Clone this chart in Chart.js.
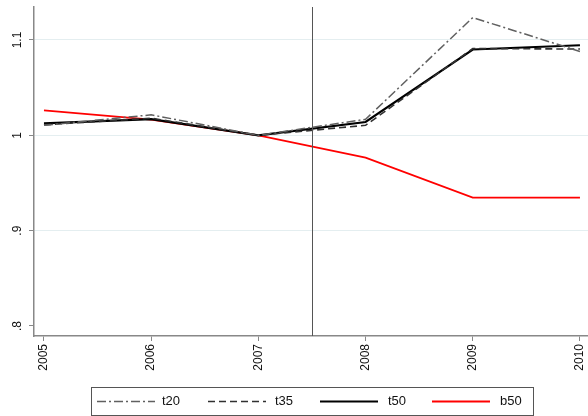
<!DOCTYPE html>
<html><head><meta charset="utf-8">
<script src="https://cdn.jsdelivr.net/npm/chart.js@4"></script>
<style>html,body{margin:0;padding:0;background:#fff}#wrap{width:588px;height:416px}</style>
</head><body><div id="wrap"><canvas id="c"></canvas></div>
<script>
const years = [2005, 2006, 2007, 2008, 2009, 2010];
const t20 = [1.0105, 1.0215, 1.000, 1.0168, 1.1235, 1.088];
const t35 = [1.0110, 1.0180, 1.000, 1.0105, 1.0910, 1.0905];
const t50 = [1.0125, 1.0170, 1.000, 1.0140, 1.0900, 1.0945];
const b50 = [1.0262, 1.0165, 1.000, 0.9766, 0.9346, 0.9346];
const seriesNames = ['t20', 't35', 't50', 'b50'];
const yTicks = [0.8, 0.9, 1.0, 1.1];
const yTickLabels = ['.8', '.9', '1', '1.1'];
const xTickLabels = ['2005', '2006', '2007', '2008', '2009', '2010'];
const eventYear = 2007.5;

const styles = [
  {color:'#606060', width:1.5, dash:[9,3,2,3]},
  {color:'#303030', width:1.6, dash:[7,4]},
  {color:'#000000', width:2.2, dash:[]},
  {color:'#ff0000', width:1.8, dash:[]}
];
const seriesData = [t20, t35, t50, b50];

const datasets = seriesData.map((arr, i) => ({
  label: seriesNames[i],
  data: arr.map((v, j) => ({x: years[j], y: v})),
  borderColor: styles[i].color,
  borderWidth: styles[i].width,
  borderDash: styles[i].dash,
  pointRadius: 0,
  fill: false,
  tension: 0
}));
const FONT = '"Liberation Sans", Arial, sans-serif';

const extras = {
  id: 'extras',
  afterDatasetsDraw(chart) {
    const ctx = chart.ctx, xs = chart.scales.x, ca = chart.chartArea;
    const px = Math.round(xs.getPixelForValue(eventYear)) + 0.5;
    ctx.save();
    ctx.strokeStyle = '#555'; ctx.lineWidth = 1;
    ctx.beginPath(); ctx.moveTo(px, ca.top); ctx.lineTo(px, ca.bottom); ctx.stroke();
    ctx.restore();
  },
  afterDraw(chart) {
    const ctx = chart.ctx, ys = chart.scales.y;
    ctx.save();
    ctx.fillStyle = '#111';
    ctx.font = '12px ' + FONT;
    ctx.textAlign = 'center'; ctx.textBaseline = 'middle';
    yTicks.forEach((v, i) => {
      const py = ys.getPixelForValue(v);
      ctx.save(); ctx.translate(18, py); ctx.rotate(-Math.PI/2);
      ctx.fillText(yTickLabels[i], 0, 0);
      ctx.restore();
    });
    ctx.restore();
    ctx.save();
    ctx.strokeStyle = '#555'; ctx.lineWidth = 1;
    ctx.strokeRect(91.5, 387.5, 442, 28);
    const lineX = [97, 208, 320, 432];
    const textX = [162, 275, 388, 500];
    const cy = 401.5;
    ctx.font = '13px ' + FONT; ctx.fillStyle = '#111';
    ctx.textAlign = 'left'; ctx.textBaseline = 'middle';
    seriesNames.forEach((n, i) => {
      ctx.strokeStyle = styles[i].color; ctx.lineWidth = styles[i].width;
      ctx.setLineDash(styles[i].dash);
      ctx.beginPath(); ctx.moveTo(lineX[i], cy); ctx.lineTo(lineX[i] + 58, cy); ctx.stroke();
      ctx.setLineDash([]);
      ctx.fillText(n, textX[i], cy);
    });
    ctx.restore();
  }
};

new Chart(document.getElementById('c'), {
  type: 'line',
  data: {datasets},
  options: {
    responsive: true, maintainAspectRatio: false, animation: false,
    layout: {padding: {top: 7, right: 0, left: 0, bottom: 0}},
    plugins: {legend: {display: false}, tooltip: {enabled: false}},
    scales: {
      x: {
        type: 'linear', min: 2004.907, max: 2010.075,
        afterBuildTicks: s => { s.ticks = years.map(v => ({value: v})); },
        afterFit: s => { s.height = 80; s.paddingLeft = 0; s.paddingRight = 0; },
        grid: {drawOnChartArea: false, drawTicks: true, tickLength: 5, tickColor: '#888'},
        border: {display: true, color: '#888', width: 1.5},
        ticks: {
          minRotation: 90, maxRotation: 90, autoSkip: false, padding: 3,
          color: '#111', font: {size: 12, family: FONT},
          callback: (v) => xTickLabels[years.indexOf(v)]
        }
      },
      y: {
        min: 0.7895, max: 1.1346,
        afterBuildTicks: s => { s.ticks = yTicks.map(v => ({value: v})); },
        afterFit: s => { s.width = 34; s.paddingTop = 0; s.paddingBottom = 0; },
        grid: {
          color: ctx => (ctx.tick && Math.abs(ctx.tick.value - 0.8) < 1e-6) ? 'rgba(0,0,0,0)' : '#e4eef0',
          tickColor: '#888', tickLength: 5, drawTicks: true, lineWidth: 1
        },
        border: {display: true, color: '#888', width: 1.5},
        ticks: {display: false}
      }
    }
  },
  plugins: [extras]
});
</script></body></html>
